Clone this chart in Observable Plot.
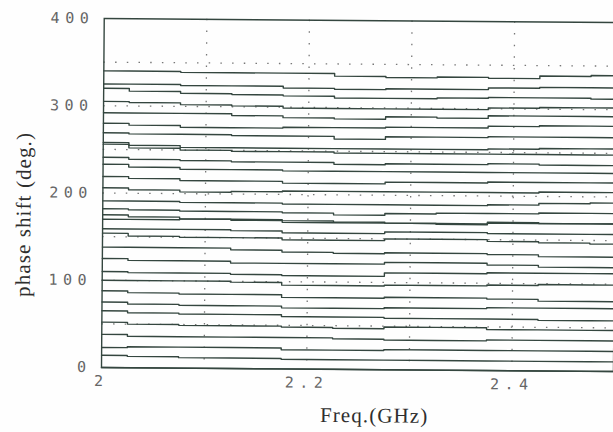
<!DOCTYPE html>
<html>
<head>
<meta charset="utf-8">
<script src="https://cdn.jsdelivr.net/npm/d3@7"></script>
<script src="https://cdn.jsdelivr.net/npm/@observablehq/plot@0.6"></script>
<style>
  html, body { margin: 0; padding: 0; background: #fefefe; }
  #chart { width: 613px; height: 432px; overflow: hidden; }
  #chart svg { transform: rotate(0.45deg); transform-origin: 101px 367px; }
</style>
</head>
<body>
<div id="chart"></div>
<script>
// Frequency samples (GHz)
const freq = [2.00, 2.05, 2.10, 2.15, 2.20, 2.25, 2.30, 2.35, 2.40, 2.45, 2.50];

const s01 = [340, 340, 339, 339, 339, 336, 335, 336, 335, 338, 339];
const s02 = [325, 325, 324, 324, 322, 321, 322, 322, 324, 325, 325];
const s03 = [320, 317, 315, 314, 313, 311, 311, 312, 313, 313, 312];
const s04 = [305, 304, 302, 301, 299, 299, 299, 299, 301, 302, 302];
const s05 = [292, 292, 292, 290, 288, 287, 290, 289, 292, 292, 292];
const s06 = [280, 278, 276, 276, 277, 277, 278, 278, 280, 281, 281];
const s07 = [269, 268, 268, 267, 267, 264, 267, 267, 268, 268, 268];
const s08 = [258, 255, 253, 253, 253, 253, 253, 253, 254, 255, 255];
const s09 = [256, 252, 250, 249, 249, 248, 248, 248, 248, 248, 248];
const s10 = [241, 239, 238, 237, 237, 235, 236, 236, 237, 236, 236];
const s11 = [233, 230, 228, 228, 227, 227, 227, 227, 227, 227, 227];
const s12 = [219, 217, 215, 215, 213, 213, 215, 215, 216, 216, 216];
const s13 = [206, 204, 202, 203, 204, 204, 204, 204, 204, 205, 205];
const s14 = [191, 191, 190, 190, 189, 189, 189, 189, 190, 192, 193];
const s15 = [182, 181, 180, 180, 179, 177, 179, 180, 180, 181, 181];
const s16 = [175, 173, 171, 171, 170, 169, 168, 168, 169, 169, 169];
const s17 = [170, 170, 171, 170, 168, 168, 168, 167, 170, 169, 169];
const s18 = [159, 159, 159, 158, 156, 156, 158, 158, 157, 157, 157];
const s19 = [154, 151, 150, 150, 148, 148, 150, 150, 148, 147, 146];
const s20 = [138, 138, 138, 136, 134, 133, 134, 134, 133, 131, 131];
const s21 = [125, 123, 123, 121, 121, 121, 123, 123, 121, 119, 119];
const s22 = [110, 109, 109, 108, 107, 107, 111, 111, 112, 112, 112];
const s23 = [100, 100, 100, 99, 96, 96, 97, 97, 98, 99, 99];
const s24 = [88, 86, 85, 85, 82, 82, 83, 83, 82, 80, 80];
const s25 = [75, 73, 72, 72, 70, 70, 71, 71, 72, 72, 72];
const s26 = [65, 63, 62, 62, 60, 60, 59, 59, 59, 58, 58];
const s27 = [52, 50, 49, 49, 48, 47, 49, 49, 47, 47, 47];
const s28 = [38, 36, 36, 36, 36, 35, 34, 34, 35, 35, 35];
const s29 = [23, 24, 24, 24, 22, 22, 23, 23, 23, 23, 23];
const s30 = [14, 13, 12, 12, 11, 11, 11, 11, 11, 11, 11];
const s31 = [0, 0, 0, 0, 0, 0, 0, 0, 0, 0, 0];

// Axis ticks and grid
const xTicks = [2, 2.2, 2.4];
const yTicks = [0, 100, 200, 300, 400];
const gridX = [2.1, 2.2, 2.3, 2.4];
const gridY = [50, 100, 150, 200, 250, 300, 350];
const xTitle = "Freq.(GHz)";
const yTitle = "phase shift (deg.)";

const allSeries = [s01, s02, s03, s04, s05, s06, s07, s08, s09, s10, s11, s12, s13, s14, s15, s16,
  s17, s18, s19, s20, s21, s22, s23, s24, s25, s26, s27, s28, s29, s30, s31];
const data = allSeries.flatMap((vals, i) => vals.map((v, j) => ({state: i, f: freq[j], phase: v})));

const ink = "#34463f";

const chart = Plot.plot({
  width: 613,
  height: 432,
  marginLeft: 101,
  marginTop: 18,
  marginBottom: 65,
  marginRight: 0,
  style: {background: "#fefefe", fontFamily: "DejaVu Sans Mono", fontSize: "15px", color: "#666", overflow: "hidden"},
  x: {domain: [2, 2.5], range: [101, 614], ticks: xTicks, tickFormat: d => d === 2 ? "2" : d.toFixed(1), tickSize: 0, tickPadding: 8, label: null},
  y: {domain: [0, 400], range: [367, 18], ticks: yTicks, tickFormat: d => String(d), tickSize: 0, tickPadding: 10, label: null},
  marks: [
    Plot.ruleY(gridY, {stroke: "#777", strokeWidth: 1.3, strokeDasharray: "1.5 10.2"}),
    Plot.ruleX(gridX, {stroke: "#777", strokeWidth: 1.3, strokeDasharray: "1.5 10.2"}),
    Plot.line(data, {x: "f", y: "phase", z: "state", curve: "step", stroke: ink, strokeWidth: 1.4}),
    Plot.frame({stroke: ink, strokeWidth: 1.4}),
    Plot.text([xTitle], {frameAnchor: "bottom", lineAnchor: "middle", textAnchor: "middle", dx: 17, dy: 46,
      fontFamily: "Liberation Serif", fontSize: 21, fill: "#2e2e2e"}),
    Plot.text([yTitle], {frameAnchor: "left", lineAnchor: "middle", textAnchor: "middle", rotate: -90, dx: -79, dy: 22,
      fontFamily: "Liberation Serif", fontSize: 21, fill: "#2e2e2e"})
  ]
});

d3.select(chart).selectAll("text").each(function() {
  const t = this.textContent;
  if (t === xTitle || t === yTitle) d3.select(this).attr("letter-spacing", "1.1px");
  else d3.select(this).attr("letter-spacing", "5.5px");
});

document.getElementById("chart").appendChild(chart);
</script>
</body>
</html>
